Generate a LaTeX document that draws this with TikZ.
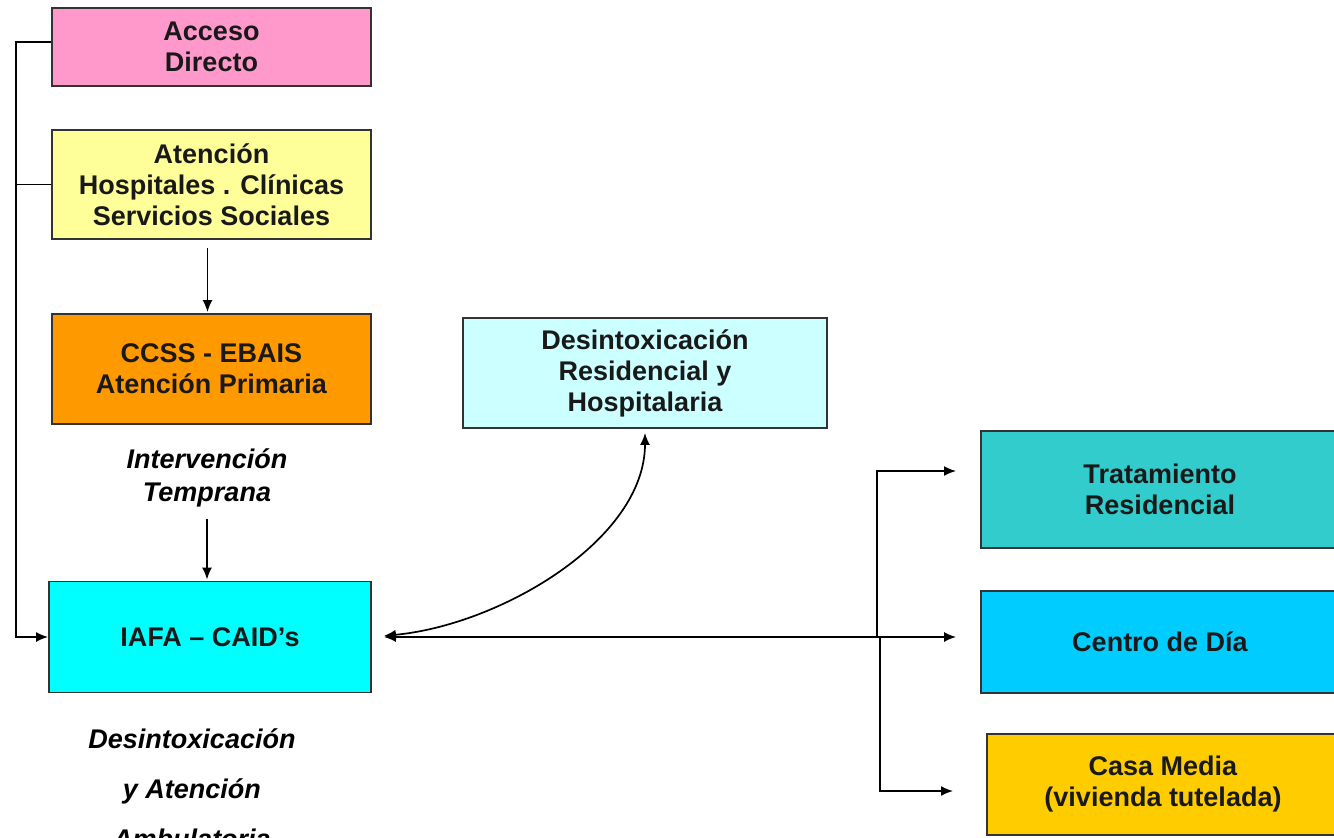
\documentclass[tikz,border=0pt]{standalone}
\usepackage{fontspec}
\setmainfont{Liberation Sans}
\usetikzlibrary{arrows.meta}
\definecolor{cpink}{HTML}{FF99CC}
\definecolor{cyellow}{HTML}{FFFF99}
\definecolor{corange}{HTML}{FF9900}
\definecolor{ccyan}{HTML}{00FFFF}
\definecolor{clcyan}{HTML}{CCFFFF}
\definecolor{cteal}{HTML}{33CCCC}
\definecolor{csky}{HTML}{00CCFF}
\definecolor{cgold}{HTML}{FFCC00}
\definecolor{cborder}{HTML}{333333}
\tikzset{
  box/.style={draw=cborder, line width=1.8pt, align=center, inner sep=0pt,
    font=\fontsize{27}{31}\selectfont\bfseries, text=black!90},
  lbl/.style={align=center, font=\fontsize{27}{33}\selectfont\bfseries\itshape},
  conn/.style={line width=1.7pt, black},
  arr/.style={conn, -{Latex[length=12pt,width=10pt]}},
  darr/.style={conn, {Latex[length=12pt,width=10pt]}-{Latex[length=12pt,width=10pt]}}
}
\begin{document}
\begin{tikzpicture}[x=1pt,y=-1pt]
\useasboundingbox[fill=white] (0,0) rectangle (1334,838);
\node[box, fill=cpink, minimum width=319pt, minimum height=78pt] (acc) at (211.5,47) {Acceso\\Directo};
\node[box, fill=cyellow, minimum width=319pt, minimum height=109pt] (aten) at (211.5,184.5) {Atención\\Hospitales . Clínicas\\Servicios Sociales};
\node[box, fill=corange, minimum width=319pt, minimum height=110pt] (ccss) at (211.5,369) {CCSS - EBAIS\\Atención Primaria};
\node[lbl] (interv) at (207,478) {Intervención\\Temprana};
\node[box, fill=ccyan, minimum width=322pt, minimum height=111pt] (iafa) at (210,637) {IAFA -- CAID’s};
\node[lbl, font=\fontsize{27}{50}\selectfont\bfseries\itshape] (desamb) at (192,789) {Desintoxicación\\y Atención\\Ambulatoria};
\node[box, fill=clcyan, minimum width=364pt, minimum height=110pt] (desres) at (645,373) {Desintoxicación\\Residencial y\\Hospitalaria};
\node[box, fill=cteal, minimum width=358pt, minimum height=117pt] (trat) at (1160,489.5) {Tratamiento\\Residencial};
\node[box, fill=csky, minimum width=358pt, minimum height=102pt] (centro) at (1160,642) {Centro de Día};
\node[box, fill=cgold, minimum width=352pt, minimum height=101pt] (casa) at (1163,784.5) {Casa Media\\(vivienda tutelada)};

% left feed line
\draw[arr] ([yshift=5pt]acc.west) -- ++(-35,0) |- (iafa.west);
\draw[conn] (aten.west) -- ++(-35,0);
% vertical arrows
\draw[arr, shorten <=8pt, shorten >=1pt] ([xshift=-4pt]aten.south) -- ([xshift=-4pt]aten.south |- ccss.north);
\draw[arr, shorten <=8pt, shorten >=1pt] (interv.south) -- (interv.south |- iafa.north);
% main horizontal
\draw[darr, shorten <=12pt, shorten >=24pt] (iafa.east) -- (iafa.east -| centro.west);
% curve to residencial
\draw[darr, shorten <=12pt] (iafa.east) .. controls (500,625) and (645,540) .. ([yshift=-4pt]desres.south);
% right branches
\coordinate (j1) at (877,637);
\coordinate (t1) at (956,471);
\coordinate (j2) at (880,637);
\coordinate (c1) at (953,791);
\draw[arr] (j1) |- (t1);
\draw[arr] (j2) |- (c1);
\end{tikzpicture}
\end{document}
